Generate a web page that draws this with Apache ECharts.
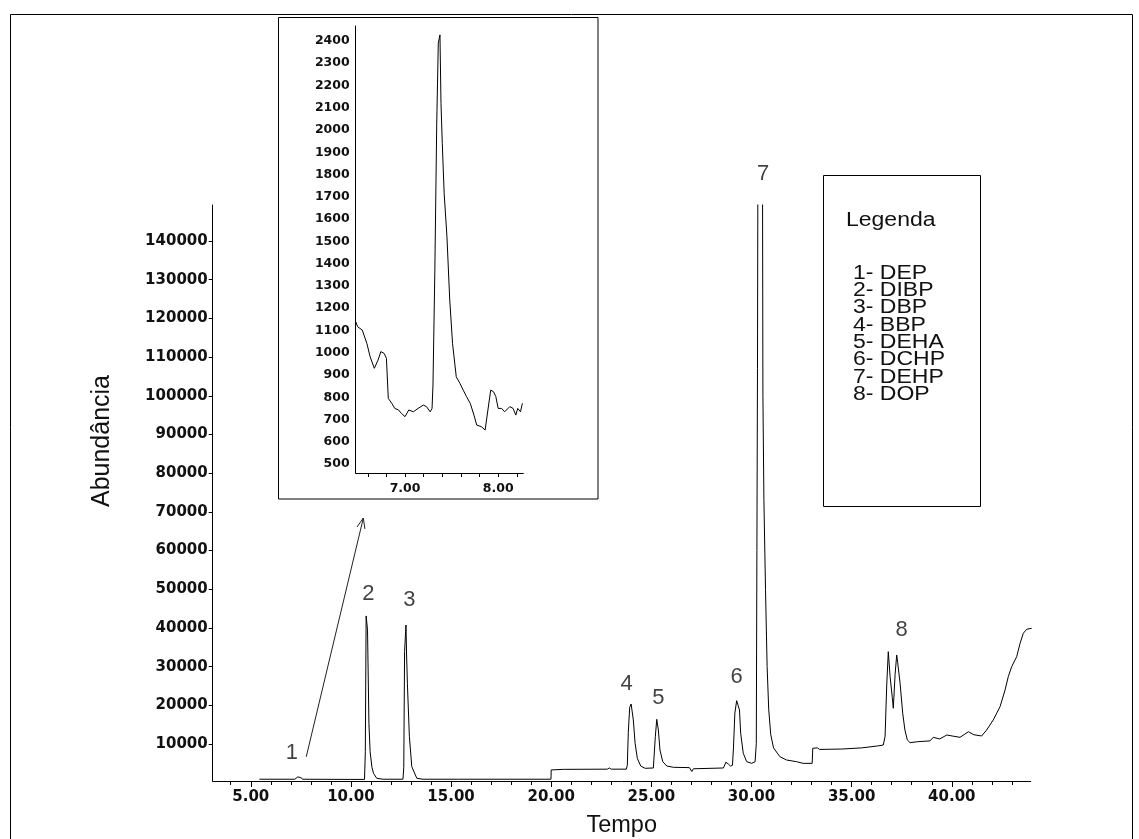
<!DOCTYPE html>
<html><head><meta charset="utf-8">
<script src="https://cdn.jsdelivr.net/npm/echarts@6/dist/echarts.min.js"></script>
<style>html,body{margin:0;padding:0;background:#fff}#c{width:1139px;height:839px}</style>
</head><body><div id="c"></div>
<script>
// ---- main chromatogram (time in min, abundance) ----
const mainTime = [5.43,7.2,7.35,7.43,7.5,7.6,10.0,10.68,10.72,10.76,10.8,10.83,10.87,10.9,10.96,11.05,11.13,11.29,11.6,
12.6,12.64,12.68,12.72,12.75,12.78,12.82,12.92,13.04,13.29,13.6,15.25,15.31,15.37,19.99,20.0,20.6,20.65,20.7,22.8,22.9,23.0,
23.75,23.8,23.85,23.92,23.99,24.04,24.1,24.19,24.3,24.47,24.69,25.1,25.16,25.2,25.27,25.35,25.43,25.57,25.77,26.1,26.9,27.02,27.1,
28.6,28.72,28.85,28.95,29.05,29.1,29.17,29.26,29.33,29.4,29.46,29.59,29.76,30.01,30.18,30.24,30.27,30.3,30.32,30.55,30.57,30.62,
30.7,30.78,30.86,30.96,31.1,31.42,31.75,32.25,32.58,33.03,33.06,33.3,33.4,34.5,35.5,36.3,36.58,36.67,36.75,36.83,36.87,36.92,
36.97,37.03,37.08,37.17,37.25,37.3,37.42,37.55,37.66,37.78,37.92,38.3,38.91,39.08,39.4,39.75,40.1,40.41,40.83,41.1,41.49,41.74,
42.07,42.41,42.66,42.82,42.99,43.24,43.41,43.57,43.74,43.99];
const mainAbund = [900,900,1500,2000,1300,900,850,850,8000,43100,43100,39500,39500,15300,8000,4000,2400,1140,900,
900,4000,33900,33900,40760,33000,25700,11900,4140,1140,900,900,1300,900,900,3300,3450,3900,3450,3500,3800,3500,
3500,4500,13000,19500,20340,18500,16210,10180,6300,4310,3720,3800,4000,12000,16380,13620,8450,5430,4310,3980,3900,2900,3600,
3800,5300,4800,4300,4500,9000,18000,21200,20000,18790,12770,7600,5430,5010,5430,10180,60000,107000,160000,160000,100000,73000,
50000,30000,19000,12500,9000,6720,5870,5430,5000,5000,8900,9000,8600,8700,9000,9500,9740,12000,25000,33870,33870,27400,
27000,22000,19230,28000,33010,31000,25690,17940,13620,11040,10340,10600,10800,11730,11300,12330,12000,11730,13180,12400,12070,13620,
16210,19650,23960,27400,29990,32570,36030,38620,39650,39910];

// ---- inset (zoom on peak 1) ----
const insetTime = [6.471,6.49,6.54,6.59,6.625,6.67,6.69,6.71,6.74,6.775,6.8,6.82,6.857,6.89,6.93,6.96,7.0,7.04,7.09,7.14,7.196,
7.23,7.27,7.29,7.3,7.32,7.34,7.357,7.375,7.386,7.4,7.42,7.45,7.48,7.51,7.55,7.59,7.625,7.66,7.7,7.74,7.77,7.82,7.86,7.89,7.92,
7.95,7.975,8.0,8.036,8.07,8.125,8.16,8.19,8.21,8.24,8.26];
const insetAbund = [1139,1117,1102,1042,982,930,922,967,1005,997,975,795,773,750,743,728,713,743,735,750,765,
758,735,750,855,1371,2023,2390,2427,2120,1940,1716,1521,1237,1042,892,862,832,803,773,720,675,668,653,743,832,
825,803,750,750,735,758,750,720,750,735,773];

// ---- tick labels ----
const mainXLabels = [5,10,15,20,25,30,35,40];
const mainXMinorTicks = [4,5,6,7,8,9,10,11,12,13,14,15,16,17,18,19,20,21,22,23,24,25,26,27,28,29,30,31,32,33,34,35,36,37,38,39,40,41,42,43];
const mainYLabels = [10000,20000,30000,40000,50000,60000,70000,80000,90000,100000,110000,120000,130000,140000];
const insetXLabels = [7,8];
const insetXTicks = [6.6,6.8,7.0,7.2,7.4,7.6,7.8,8.0,8.2];
const insetYLabels = [500,600,700,800,900,1000,1100,1200,1300,1400,1500,1600,1700,1800,1900,2000,2100,2200,2300,2400];

// ---- peak annotations ----
const peakNames = ['1','2','3','4','5','6','7','8'];
const peakLabelTime = [7.05,10.87,12.92,23.77,25.35,29.26,30.58,37.5];
const peakLabelAbund = [7760,48780,47230,25510,21820,27400,157350,39470];
const legendTitle = 'Legenda';
const legendItems = ['1- DEP','2- DIBP','3- DBP','4- BBP','5- DEHA','6- DCHP','7- DEHP','8- DOP'];
const xTitle = 'Tempo';
const yTitle = 'Abundância';
const arrowFrom = [7.77, 6700];
const arrowTo = [10.62, 68400];

const chart = echarts.init(document.getElementById('c'));
const txt = '#111';
const axLabelMain = {color: txt, fontFamily: 'DejaVu Sans', fontWeight: 'bold', fontSize: 15};
const insetLabel = {color: txt, fontFamily: 'DejaVu Sans', fontWeight: 'bold', fontSize: 12.5};

const legendGraphics = [
  {type:'rect', shape:{x:823.5,y:175.5,width:157,height:331}, style:{fill:'none',stroke:'#000',lineWidth:1}},
  {type:'text', x:846, y:220, scaleX:1.15, style:{text:legendTitle, font:'20px "Liberation Sans"', fill:txt, verticalAlign:'middle'}}
];
legendItems.forEach((s,i)=>legendGraphics.push({type:'text', x:853, y:273.3+i*17.35, scaleX:1.18,
  style:{text:s, font:'19.5px "Liberation Sans"', fill:txt, verticalAlign:'middle'}}));

chart.setOption({
  animation:false,
  backgroundColor:'#fff',
  grid:[
    {left:212.7, right:108.3, top:205, bottom:58, outerBoundsMode:'none', containLabel:false},
    {left:355.7, top:26, width:167.6, height:447, outerBoundsMode:'none', containLabel:false}
  ],
  xAxis:[
    {gridIndex:0, type:'value', min:3.1, max:43.94,
     axisLine:{lineStyle:{color:'#000',width:1}},
     axisTick:{customValues:mainXLabels, length:6, lineStyle:{color:'#000'}},
     axisLabel:{...axLabelMain, customValues:mainXLabels, formatter:v=>v.toFixed(2), margin:9},
     splitLine:{show:false},
     name:xTitle, nameLocation:'middle', nameGap:33,
     nameTextStyle:{fontFamily:'Liberation Sans', fontSize:23.5, color:txt}},
    {gridIndex:0, type:'value', min:3.1, max:43.94, position:'bottom',
     axisLine:{show:false}, axisTick:{customValues:mainXMinorTicks, length:4, lineStyle:{color:'#000'}},
     axisLabel:{show:false}, splitLine:{show:false}},
    {gridIndex:1, type:'value', min:6.47, max:8.27,
     axisLine:{lineStyle:{color:'#000'}},
     axisTick:{customValues:insetXTicks, length:4, lineStyle:{color:'#000'}},
     axisLabel:{...insetLabel, customValues:insetXLabels, formatter:v=>v.toFixed(2), margin:9},
     splitLine:{show:false}}
  ],
  yAxis:[
    {gridIndex:0, type:'value', min:440, max:149300,
     axisLine:{show:true, lineStyle:{color:'#000',width:1}},
     axisTick:{show:true, customValues:mainYLabels, length:4, lineStyle:{color:'#000'}},
     axisLabel:{...axLabelMain, customValues:mainYLabels, formatter:v=>String(v), margin:5},
     splitLine:{show:false}},
    {gridIndex:1, type:'value', min:460, max:2467,
     axisLine:{show:true, lineStyle:{color:'#000'}},
     axisTick:{show:false},
     axisLabel:{...insetLabel, customValues:insetYLabels, formatter:v=>String(v), margin:6},
     splitLine:{show:false}}
  ],
  series:[
    {type:'line', xAxisIndex:0, yAxisIndex:0, data:mainTime.map((t,i)=>[t,mainAbund[i]]),
     symbol:'none', lineStyle:{color:'#000', width:1}, clip:true, silent:true},
    {type:'line', xAxisIndex:2, yAxisIndex:1, data:insetTime.map((t,i)=>[t,insetAbund[i]]),
     symbol:'none', lineStyle:{color:'#000', width:1}, silent:true},
    {type:'scatter', xAxisIndex:0, yAxisIndex:0, symbolSize:0, clip:false, silent:true,
     data:peakNames.map((n,i)=>({name:n, value:[peakLabelTime[i], peakLabelAbund[i]]})),
     label:{show:true, position:'inside', formatter:p=>p.name, fontFamily:'Liberation Sans', fontSize:22, color:txt}},
    {type:'custom', xAxisIndex:0, yAxisIndex:0, clip:false, silent:true,
     data:[[arrowFrom[0],arrowFrom[1],arrowTo[0],arrowTo[1]]],
     renderItem:(params, api)=>{
       const p0 = api.coord([api.value(0), api.value(1)]);
       const p1 = api.coord([api.value(2), api.value(3)]);
       const ang = Math.atan2(p1[1]-p0[1], p1[0]-p0[0]);
       const L = 11, a = 0.38;
       const h1 = [p1[0]-L*Math.cos(ang-a), p1[1]-L*Math.sin(ang-a)];
       const h2 = [p1[0]-L*Math.cos(ang+a), p1[1]-L*Math.sin(ang+a)];
       return {type:'group', children:[
         {type:'line', shape:{x1:p0[0],y1:p0[1],x2:p1[0],y2:p1[1]}, style:{stroke:'#222',lineWidth:1}},
         {type:'polyline', shape:{points:[h1,p1,h2]}, style:{stroke:'#222',lineWidth:1,fill:null}}
       ]};
     }}
  ],
  graphic:[
    {type:'rect', shape:{x:10.5,y:14.5,width:1122,height:840}, style:{fill:'none',stroke:'#000',lineWidth:1}},
    {type:'rect', shape:{x:278.5,y:17.5,width:319.5,height:481.5}, style:{fill:'none',stroke:'#000',lineWidth:1}},
    {type:'text', x:102, y:441, rotation:Math.PI/2,
     style:{text:yTitle, font:'25px "Liberation Sans"', fill:txt, align:'center', verticalAlign:'middle'}},
    ...legendGraphics
  ]
});
</script></body></html>
